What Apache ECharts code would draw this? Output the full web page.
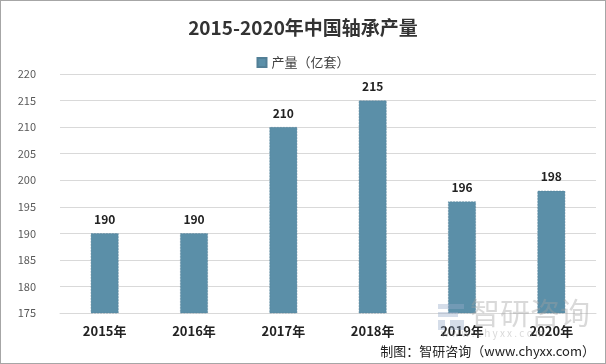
<!DOCTYPE html>
<html><head><meta charset="utf-8">
<script src="https://cdn.jsdelivr.net/npm/echarts@6/dist/echarts.min.js"></script>
<style>html,body{margin:0;padding:0;background:#fff}#c{width:606px;height:364px;box-sizing:border-box;border:1px solid #a6a6a6}</style>
</head><body><div id="c"></div>
<script>
const categories = ['2015年','2016年','2017年','2018年','2019年','2020年'];
const values = [190, 190, 210, 215, 196, 198];
const seriesName = '产量（亿套）';
const titleText = '2015-2020年中国轴承产量';
const sourceText = '制图：智研咨询（www.chyxx.com）';
const chart = echarts.init(document.getElementById('c'), null, {renderer:'canvas'});
const font = '"Microsoft YaHei","Noto Sans CJK SC",sans-serif';
const wm = 'rgba(160,160,160,0.4)';
const wmb = 'rgba(150,170,200,0.4)';
chart.setOption({
  animation:false,
  title:{text:titleText,left:'center',top:12,textStyle:{fontSize:19,fontWeight:'bold',color:'#333',fontFamily:font}},
  legend:{top:50,left:'center',itemWidth:9,itemHeight:9,icon:'rect',itemGap:5,textStyle:{fontSize:13,color:'#404040',fontFamily:font},data:[seriesName]},
  grid:{left:59,right:9,top:73,bottom:50,containLabel:false},
  xAxis:{type:'category',data:categories,axisLine:{show:true,lineStyle:{color:'#d9d9d9'}},axisTick:{show:false},
    axisLabel:{fontSize:13,fontWeight:'bold',color:'#222',margin:12,fontFamily:font}},
  yAxis:{type:'value',min:175,max:220,interval:5,axisLine:{show:false},axisTick:{show:false},
    splitLine:{lineStyle:{color:'#d9d9d9'}},axisLabel:{fontSize:11,color:'#595959',margin:24,fontFamily:font}},
  series:[{name:seriesName,type:'bar',data:values,barWidth:'31%',
    itemStyle:{color:'#5B8FA8',borderColor:'#527f96',borderWidth:0.5,borderType:'dashed'},
    label:{show:true,position:'top',distance:8,fontSize:12,fontWeight:'bold',color:'#222',fontFamily:font}}],
  graphic:[
    {type:'rect',z:100,shape:{x:437,y:303,width:26,height:5},style:{fill:wmb}},
    {type:'rect',z:100,shape:{x:437,y:311,width:20,height:5},style:{fill:wmb}},
    {type:'rect',z:100,shape:{x:437,y:319,width:7,height:10},style:{fill:wmb}},
    {type:'rect',z:100,shape:{x:449,y:319,width:14,height:10},style:{fill:wmb}},
    {type:'text',z:100,left:469,top:297,style:{text:'智研咨询',fontSize:30,fill:wm,fontFamily:font}},
    {type:'text',z:100,left:440,top:327,style:{text:'w w w . c h y x x . c o m',fontSize:10,fill:wm,fontFamily:font}},
    {type:'text',right:10,top:344,style:{text:sourceText,fontSize:13,fill:'#222',fontFamily:font}}
  ]
});
</script></body></html>
